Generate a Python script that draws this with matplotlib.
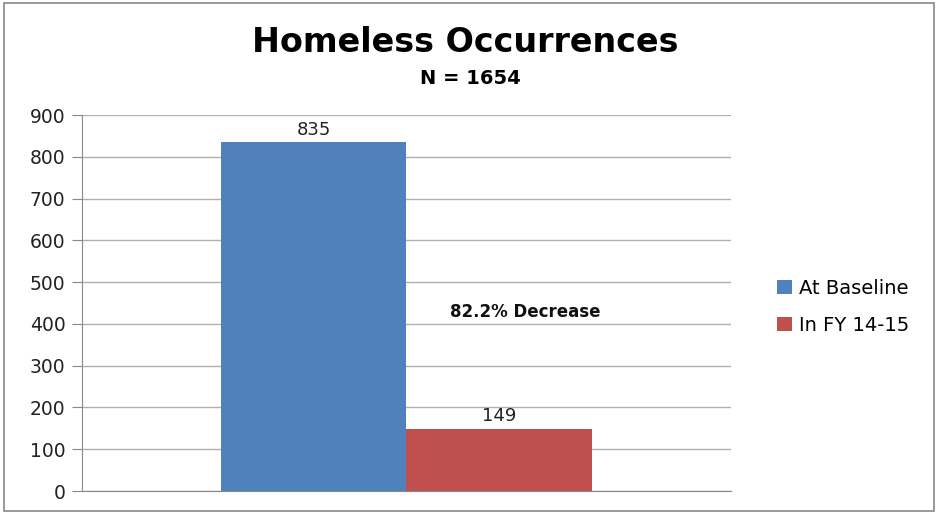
import matplotlib
matplotlib.use("Agg")
import matplotlib.pyplot as plt
from matplotlib.patches import Rectangle

series = ["At Baseline", "In FY 14-15"]
values = [835, 149]
colors = ["#4F81BD", "#C0504D"]
yticks = list(range(0, 1000, 100))
note = "82.2% Decrease"

fig = plt.figure(figsize=(9.38, 5.14), dpi=100)
ax = fig.add_axes([0.0874, 0.0447, 0.6915, 0.7315])

# one category group centred in the plot, two bars side by side
w = 0.286
offsets = [-w / 2, w / 2]
for name, v, c, off in zip(series, values, colors, offsets):
    ax.bar(0.5 + off, v, width=w, color=c, label=name, zorder=3)
    ax.text(0.5 + off, v + 8, str(v), ha="center", va="bottom",
            fontsize=13, color="#222222")

ax.text(0.683, 428, note, ha="center", va="center",
        fontsize=12, fontweight="bold", color="#111111")

ax.set_xlim(0, 1)
ax.set_ylim(0, 900)
ax.set_yticks(yticks)
ax.set_xticks([])
ax.tick_params(axis="y", labelsize=13.5, length=7, color="#888888",
               labelcolor="#222222", pad=5)
ax.grid(axis="y", color="#b0b0b0", linewidth=1, zorder=0)
for s in ["top", "right"]:
    ax.spines[s].set_visible(False)
for s in ["left", "bottom"]:
    ax.spines[s].set_color("#888888")

leg = ax.legend(loc="center left", bbox_to_anchor=(1.045, 0.49), frameon=False,
                fontsize=14, handlelength=0.75, handleheight=0.75,
                handletextpad=0.35, labelspacing=0.95)

fig.text(0.496, 0.918, "Homeless Occurrences", ha="center", va="center",
         fontsize=24, fontweight="bold")
fig.text(0.501, 0.848, "N = 1654", ha="center", va="center",
         fontsize=14, fontweight="bold")

fig.patches.append(Rectangle((0.004, 0.006), 0.992, 0.988, transform=fig.transFigure,
                             fill=False, edgecolor="#888888", linewidth=1.2))

fig.savefig("out.png", dpi=100)
